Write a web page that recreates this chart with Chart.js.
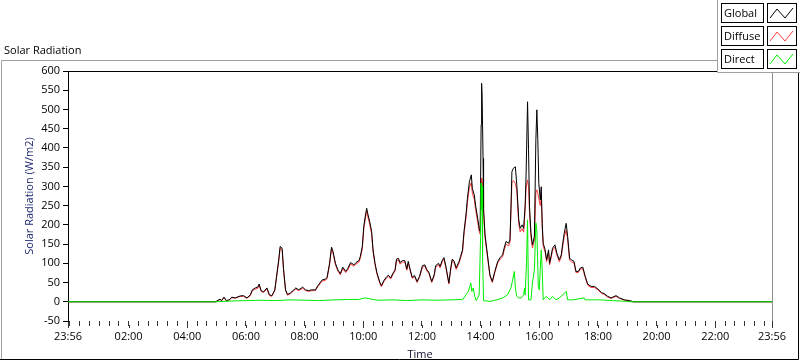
<!DOCTYPE html>
<html>
<head>
<meta charset="utf-8">
<script src="https://cdn.jsdelivr.net/npm/chart.js@4/dist/chart.umd.min.js"></script>
<style>
html,body{margin:0;padding:0;background:#fff;}
#wrap{width:800px;height:361px;position:relative;}
</style>
</head>
<body>
<div id="wrap"><canvas id="c" width="800" height="361"></canvas></div>
<script>
// ---------- data (minutes since 00:00; -4 = 23:56 previous day) ----------
const chartTitle = 'Solar Radiation';
const yAxisTitle = 'Solar Radiation (W/m2)';
const xAxisTitle = 'Time';
const seriesNames = ['Global', 'Diffuse', 'Direct'];
const seriesColors = ['#000000', '#ff3c3c', '#00ee00'];

const xMajorTickTimes = [-4, 120, 240, 360, 480, 600, 720, 840, 960, 1080, 1200, 1320, 1436];
const xMajorTickLabels = ['23:56', '02:00', '04:00', '06:00', '08:00', '10:00', '12:00', '14:00', '16:00', '18:00', '20:00', '22:00', '23:56'];
const yMin = -50, yMax = 600, yStep = 50;

const times = [
  -4, 298, 307, 310, 315, 320, 326, 331, 338, 348,
  355, 362, 369, 373, 379, 384, 387, 391, 396, 403,
  408, 413, 419, 423, 427, 430, 434, 437, 441, 445,
  451, 458, 462, 468, 476, 482, 488, 495, 502, 507,
  516, 523, 526, 531, 535, 538, 543, 548, 553, 558,
  564, 568, 574, 581, 585, 591, 594, 598, 601, 605,
  607, 609, 613, 617, 620, 624, 628, 634, 637, 642,
  647, 651, 656, 661, 665, 668, 672, 675, 680, 685,
  689, 692, 696, 700, 705, 710, 715, 721, 726, 730,
  734, 740, 745, 748, 754, 757, 762, 765, 769, 772,
  775, 779, 782, 786, 790, 796, 799, 803, 806, 810,
  813, 817, 821, 823, 827, 830, 834, 837, 839, 841,
  842, 843, 845, 846, 849, 854, 859, 864, 869, 875,
  880, 885, 888, 892, 897, 900, 902, 904, 907, 911,
  914, 918, 921, 925, 928, 931, 933, 936, 938, 940,
  943, 946, 950, 953, 955, 957, 959, 962, 964, 966,
  968, 970, 972, 975, 979, 981, 984, 987, 992, 996,
  1001, 1005, 1008, 1011, 1015, 1018, 1022, 1026, 1031, 1035,
  1040, 1044, 1049, 1054, 1059, 1066, 1073, 1080, 1087, 1093,
  1100, 1107, 1117, 1124, 1134, 1145, 1152, 1436
];

const globalValues = [
  0, 0, 7, 3, 12, 3, 5, 12, 10, 15,
  16, 10, 18, 31, 36, 38, 46, 29, 26, 36,
  18, 16, 31, 70, 109, 144, 139, 83, 31, 19,
  23, 31, 36, 31, 38, 31, 29, 31, 31, 42,
  57, 59, 64, 100, 142, 131, 100, 83, 73, 90,
  79, 86, 102, 96, 102, 107, 118, 144, 196, 230,
  243, 230, 209, 183, 135, 100, 75, 50, 42, 55,
  64, 69, 62, 75, 83, 111, 113, 102, 107, 107,
  85, 105, 83, 64, 68, 53, 66, 94, 96, 83,
  77, 53, 70, 94, 100, 92, 109, 115, 92, 70,
  49, 89, 111, 105, 88, 105, 118, 135, 183, 226,
  269, 312, 330, 295, 278, 248, 217, 191, 183, 460,
  568, 538, 373, 243, 174, 122, 70, 53, 79, 105,
  115, 122, 139, 157, 152, 161, 243, 338, 347, 351,
  304, 213, 191, 200, 191, 250, 330, 520, 395, 248,
  178, 148, 170, 421, 499, 421, 308, 265, 299, 204,
  152, 144, 135, 109, 135, 100, 118, 139, 148, 126,
  109, 122, 152, 178, 204, 170, 113, 109, 105, 79,
  79, 88, 90, 66, 46, 40, 40, 33, 24, 21,
  14, 10, 16, 10, 5, 3, 0, 0
];

const diffuseValues = [
  0, 0, 6, 2, 11, 2, 4, 11, 9, 14,
  14, 9, 16, 29, 33, 35, 43, 27, 24, 33,
  16, 14, 29, 67, 105, 140, 135, 80, 29, 17,
  21, 29, 33, 29, 35, 29, 27, 29, 29, 39,
  54, 56, 61, 96, 137, 127, 96, 80, 70, 86,
  76, 82, 98, 92, 98, 103, 113, 138, 189, 222,
  235, 223, 202, 177, 130, 96, 72, 47, 39, 52,
  61, 66, 59, 72, 80, 107, 109, 98, 103, 103,
  82, 101, 80, 61, 65, 50, 63, 90, 92, 80,
  74, 50, 67, 90, 96, 88, 105, 111, 88, 67,
  46, 85, 107, 101, 84, 101, 113, 130, 176, 217,
  258, 298, 310, 283, 266, 238, 208, 183, 176, 300,
  322, 318, 290, 232, 167, 117, 67, 50, 76, 101,
  111, 117, 133, 150, 145, 154, 228, 310, 315, 308,
  288, 203, 182, 190, 181, 238, 295, 317, 300, 232,
  168, 140, 160, 285, 291, 282, 268, 250, 273, 193,
  145, 137, 129, 104, 129, 96, 113, 133, 142, 121,
  104, 117, 145, 169, 186, 162, 108, 104, 101, 76,
  76, 85, 86, 63, 43, 37, 37, 31, 22, 19,
  12, 9, 14, 9, 4, 2, 0, 0
];

const directTimes = [
  -4, 298, 330, 360, 390, 420, 450, 480, 510, 540,
  570, 590, 600, 605, 612, 620, 630, 660, 690, 720,
  750, 780, 800, 803, 810, 815, 820, 822, 825, 828,
  831, 837, 840, 841, 842, 843, 844, 846, 859, 873,
  885, 895, 902, 905, 909, 911, 914, 918, 923, 928,
  930, 931, 934, 936, 938, 943, 946, 950, 953, 955,
  958, 960, 964, 966, 968, 974, 981, 987, 994, 1001,
  1008, 1015, 1018, 1028, 1052, 1054, 1083, 1110, 1138, 1145,
  1436
];
const directValues = [
  0, 0, 2, 3, 4, 3, 5, 4, 3, 5,
  6, 6, 9, 10, 8, 6, 4, 5, 3, 5,
  4, 5, 6, 5, 18, 27, 49, 27, 36, 14,
  3, 18, 170, 308, 240, 300, 120, 3, 1, 5,
  10, 18, 36, 53, 79, 36, 14, 10, 10, 18,
  36, 18, 105, 213, 5, 5, 49, 83, 205, 187,
  40, 31, 135, 83, 5, 14, 5, 14, 5, 10,
  18, 27, 5, 5, 10, 5, 5, 3, 1, 0,
  0
];

// ---------- chart ----------
const FONT = 'Open Sans';
Chart.defaults.font.family = FONT;
Chart.defaults.font.size = 11;
Chart.defaults.color = '#000';

function pts(xs, ys) { return xs.map((x, i) => ({ x: x, y: ys[i] })); }

const xTickValues = [-4];
for (let m = 0; m < 1436; m += 20) xTickValues.push(m);
xTickValues.push(1436);

function xLabel(v) {
  const i = xMajorTickTimes.indexOf(v);
  return i >= 0 ? xMajorTickLabels[i] : '';
}

const framePlugin = {
  id: 'frame',
  beforeDraw(chart) {
    const ctx = chart.ctx;
    ctx.save();
    ctx.fillStyle = '#fff';
    ctx.fillRect(0, 0, chart.width, chart.height);
    ctx.lineWidth = 1;
    ctx.strokeStyle = '#a0a0a0';
    ctx.beginPath();
    ctx.moveTo(1.5, 360); ctx.lineTo(1.5, 60.5); ctx.lineTo(800, 60.5);
    ctx.stroke();
    ctx.strokeStyle = '#000';
    ctx.beginPath();
    ctx.moveTo(0, 359.5); ctx.lineTo(798.5, 359.5); ctx.lineTo(798.5, 60);
    ctx.stroke();
    ctx.fillStyle = '#000';
    ctx.font = '11px "' + FONT + '"';
    ctx.textBaseline = 'middle';
    ctx.textAlign = 'left';
    ctx.fillText(chartTitle, 4, 51);
    ctx.restore();
  },
  afterDraw(chart) {
    const ctx = chart.ctx;
    const a = chart.chartArea;
    const xs = chart.scales.x;
    ctx.save();
    ctx.lineWidth = 1;
    // longer marks for labelled (major) time ticks
    ctx.strokeStyle = '#333';
    xMajorTickTimes.forEach(t => {
      const px = Math.round(xs.getPixelForValue(t)) + 0.5;
      ctx.beginPath();
      ctx.moveTo(px, a.bottom + 4); ctx.lineTo(px, a.bottom + 7);
      ctx.stroke();
    });
    // plot frame: top black, right gray
    ctx.strokeStyle = '#000';
    ctx.beginPath();
    ctx.moveTo(a.left, a.top + 0.5); ctx.lineTo(a.right, a.top + 0.5);
    ctx.stroke();
    ctx.strokeStyle = '#8c8c8c';
    ctx.beginPath();
    ctx.moveTo(a.right + 0.5, a.top); ctx.lineTo(a.right + 0.5, a.bottom);
    ctx.stroke();
    // legend panel
    ctx.fillStyle = '#fff';
    ctx.fillRect(717, 0, 83, 72);
    ctx.strokeStyle = '#a0a0a0';
    ctx.beginPath();
    ctx.moveTo(717.5, 0); ctx.lineTo(717.5, 72.5); ctx.lineTo(800, 72.5);
    ctx.stroke();
    ctx.font = '11px "' + FONT + '"';
    ctx.textBaseline = 'middle';
    ctx.textAlign = 'left';
    chart.data.datasets.forEach((ds, i) => {
      const y0 = 3 + i * 23;
      ctx.strokeStyle = '#000';
      ctx.strokeRect(721.5, y0 + 0.5, 42, 19);
      ctx.strokeRect(767.5, y0 + 0.5, 29, 19);
      ctx.fillStyle = '#000';
      ctx.fillText(ds.label, 724, y0 + 10.5);
      ctx.strokeStyle = ds.borderColor;
      ctx.beginPath();
      ctx.moveTo(770, y0 + 15); ctx.lineTo(777, y0 + 6); ctx.lineTo(785, y0 + 15); ctx.lineTo(793, y0 + 5);
      ctx.stroke();
    });
    ctx.restore();
  }
};

new Chart(document.getElementById('c'), {
  type: 'line',
  data: {
    datasets: [
      { label: seriesNames[0], data: pts(times, globalValues), borderColor: seriesColors[0], order: 1 },
      { label: seriesNames[1], data: pts(times, diffuseValues), borderColor: seriesColors[1], order: 2 },
      { label: seriesNames[2], data: pts(directTimes, directValues), borderColor: seriesColors[2], order: 0 }
    ]
  },
  options: {
    responsive: false,
    animation: false,
    devicePixelRatio: 1,
    elements: {
      line: { borderWidth: 1, tension: 0, fill: false },
      point: { radius: 0, hoverRadius: 0 }
    },
    layout: { padding: { top: 71, right: 28, bottom: 0, left: 0 } },
    plugins: { legend: { display: false }, tooltip: { enabled: false }, title: { display: false } },
    scales: {
      x: {
        type: 'linear',
        min: -4, max: 1436,
        afterBuildTicks(axis) { axis.ticks = xTickValues.map(v => ({ value: v })); },
        afterFit(axis) { axis.height = 40; },
        ticks: { autoSkip: false, maxRotation: 0, minRotation: 0, padding: 4, color: '#000',
                 callback: (v) => xLabel(v) },
        grid: { drawOnChartArea: false, drawTicks: true, tickLength: 5, tickColor: '#333' },
        border: { display: false },
        title: { display: true, text: xAxisTitle, color: '#101030', padding: { top: 0, bottom: 0 } }
      },
      y: {
        min: yMin, max: yMax,
        afterFit(axis) { axis.width = 68; },
        ticks: { stepSize: yStep, padding: 3, color: '#000' },
        grid: { drawOnChartArea: false, drawTicks: true, tickLength: 5, tickColor: '#000' },
        border: { display: true, color: '#000', width: 1 },
        title: { display: true, text: yAxisTitle, color: '#1f2a70', padding: { top: 23, bottom: 0 } }
      }
    }
  },
  plugins: [framePlugin]
});
</script>
</body>
</html>
